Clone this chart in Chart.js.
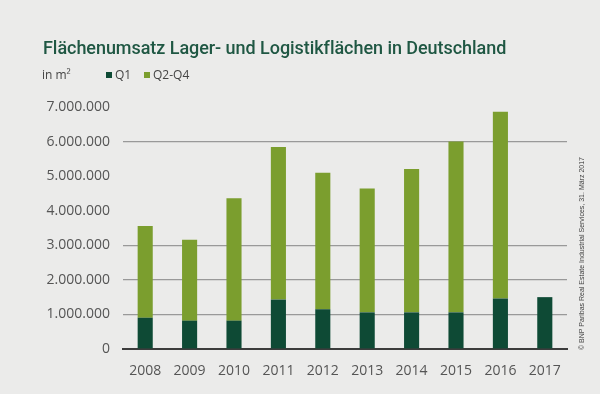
<!DOCTYPE html>
<html>
<head>
<meta charset="utf-8">
<script src="https://cdn.jsdelivr.net/npm/chart.js@4/dist/chart.umd.min.js"></script>
<style>
  html, body { margin: 0; padding: 0; background: #ebebea; }
  #wrap { position: relative; width: 600px; height: 394px; overflow: hidden; }
  #myChart { position: absolute; left: 0; top: 0; }
  .title { position: absolute; left: 43px; top: 37px; font-family: "Roboto", sans-serif; font-weight: 500;
           font-size: 18px; color: #1f5743; white-space: nowrap; letter-spacing: -0.05px; }
  .unit { position: absolute; left: 42px; top: 66px; font-family: "Open Sans", sans-serif; font-size: 12px; color: #444; }
  .legend { position: absolute; top: 66px; font-family: "Open Sans", sans-serif; font-size: 12px; color: #444; white-space: nowrap; }
  .legend span.box { display: inline-block; width: 6px; height: 6px; margin-right: 3px; vertical-align: 1px; }
  .source { position: absolute; left: 578px; top: 350px; transform-origin: 0 0; transform: rotate(-90deg);
            font-family: "Liberation Sans", sans-serif; font-size: 7px; color: #444; white-space: nowrap; }
</style>
</head>
<body>
<div id="wrap">
  <canvas id="myChart" width="600" height="394"></canvas>
  <div class="title">Flächenumsatz Lager- und Logistikflächen in Deutschland</div>
  <div class="unit">in m²</div>
  <div class="legend" style="left:106px"><span class="box" style="background:#0e4a35"></span>Q1</div>
  <div class="legend" style="left:144px"><span class="box" style="background:#7b9e2e"></span>Q2-Q4</div>
  <div class="source">© BNP Paribas Real Estate Industrial Services, 31. März 2017</div>
</div>
<script>
    // Flächenumsatz je Jahr
    const years = ['2008', '2009', '2010', '2011', '2012', '2013', '2014', '2015', '2016', '2017'];
    const q1 = [905000, 820000, 820000, 1430000, 1150000, 1060000, 1060000, 1060000, 1460000, 1500000];
    const q2q4 = [2655000, 2340000, 3540000, 4410000, 3950000, 3580000, 4150000, 4940000, 5400000, null];
    const gridLevels = [1000000, 2000000, 3000000, 6000000];

    const ctx = document.getElementById('myChart').getContext('2d');
    const myChart = new Chart(ctx, {
        type: 'bar',
        data: {
            labels: years,
            datasets: [{
                label: 'Q1',
                data: q1,
                backgroundColor: '#0e4a35',
                barPercentage: 0.34,
                categoryPercentage: 1
            }, {
                label: 'Q2-Q4',
                data: q2q4,
                backgroundColor: '#7b9e2e',
                barPercentage: 0.34,
                categoryPercentage: 1
            }]
        },
        options: {
            responsive: false,
            animation: false,
            layout: {
                padding: { left: 0, right: 33, top: 107, bottom: 0 }
            },
            plugins: {
                legend: { display: false },
                tooltip: { enabled: false }
            },
            scales: {
                x: {
                    stacked: true,
                    grid: { display: false },
                    border: { display: true, color: '#3c3c3c', width: 2 },
                    ticks: {
                        color: '#555',
                        padding: 6,
                        font: { family: 'Open Sans', size: 14 }
                    },
                    afterFit: function(scale) { scale.height = 45; }
                },
                y: {
                    stacked: true,
                    min: 0,
                    max: 7000000,
                    border: { display: false },
                    grid: {
                        drawTicks: false,
                        lineWidth: 1.2,
                        color: function(c) {
                            const v = c.tick ? c.tick.value : c.index * 1000000;
                            return gridLevels.includes(v) ? '#999999' : 'rgba(0,0,0,0)';
                        }
                    },
                    ticks: {
                        stepSize: 1000000,
                        color: '#555',
                        padding: 13,
                        font: { family: 'Open Sans', size: 14 },
                        callback: function(value) {
                            return value.toLocaleString('de-DE');
                        }
                    },
                    afterFit: function(scale) { scale.width = 123; }
                }
            }
        }
    });
</script>
</body>
</html>
